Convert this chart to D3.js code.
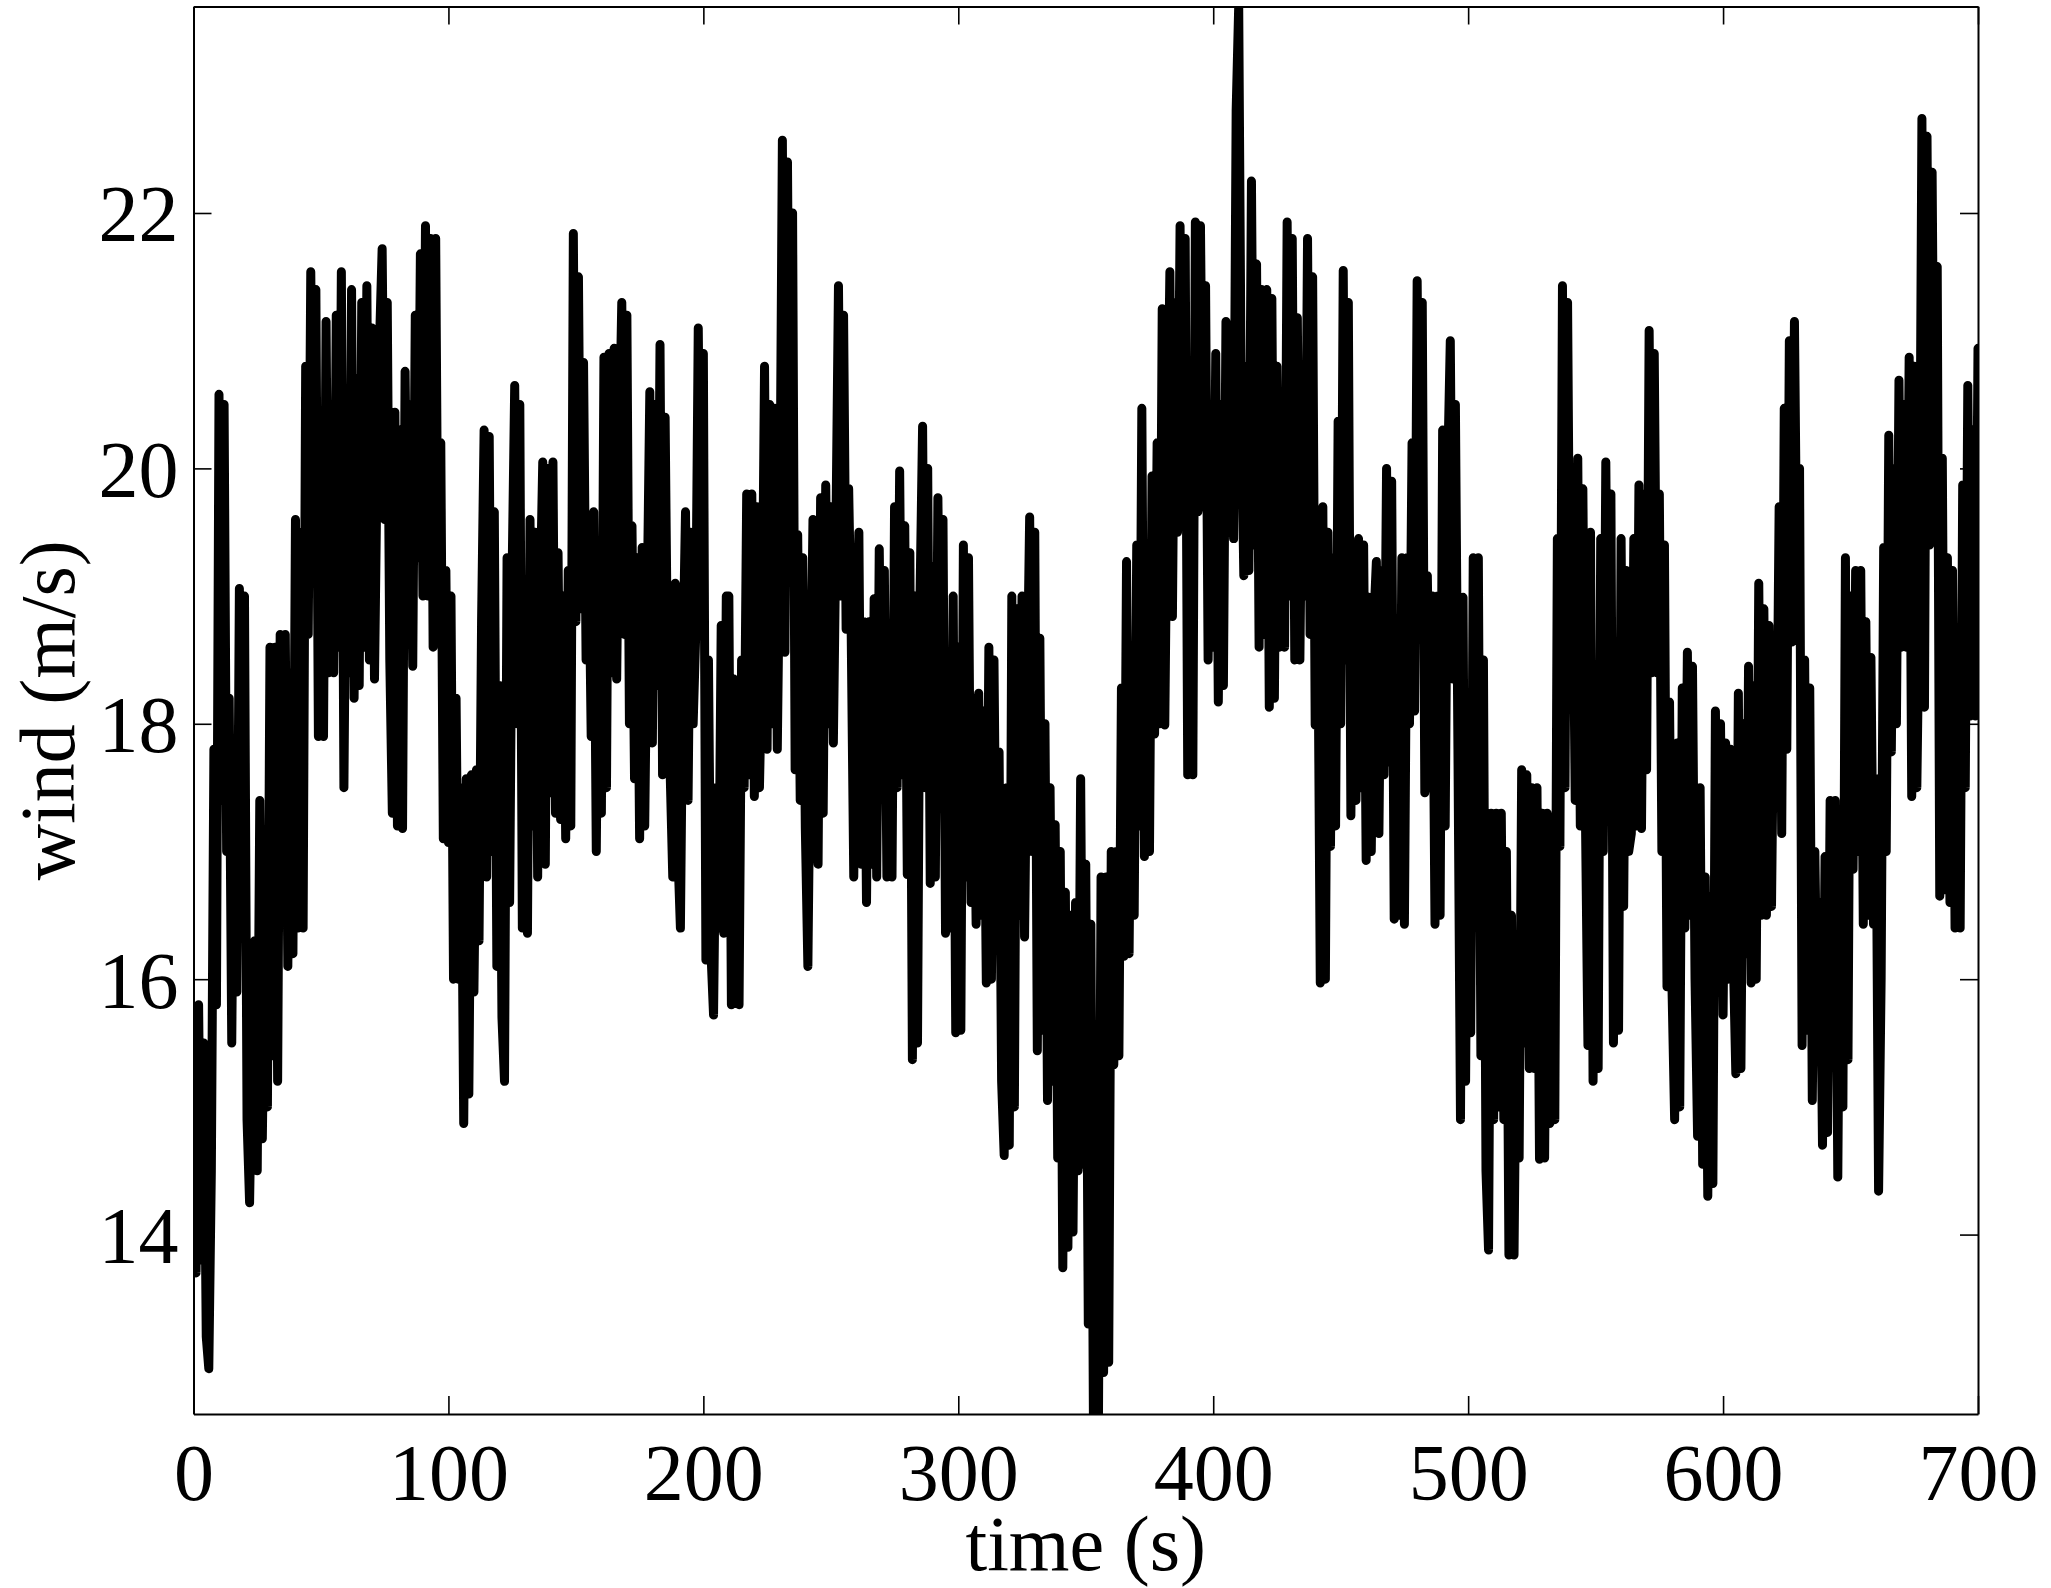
<!DOCTYPE html>
<html>
<head>
<meta charset="utf-8">
<script src="https://cdn.jsdelivr.net/npm/d3@7"></script>
<style>
html,body{margin:0;padding:0;background:#fff;}
svg{display:block;}
</style>
</head>
<body>
<svg id="chart" width="2051" height="1588"></svg>
<script>
const sampleInterval = 1; // seconds
const xTickValues = [0, 100, 200, 300, 400, 500, 600, 700];
const yTickValues = [14, 16, 18, 20, 22];
const xLabel = "time (s)";
const yLabel = "wind (m/s)";
const timeRange = [0, 700];
const windRange = [12.595, 23.617];

const wind000 = [15.7,13.7,15.8,13.8,15.5,13.2,12.95,14.5,17.8,15.8,
 20.58,17.4,20.5,17.0,18.2,15.5,17.8,15.9,19.06,16.8,
 19.0,14.9,14.25,15.5,16.3,14.5,17.4,14.75,16.3,15.0,
 18.6,15.4,18.6,15.2,18.7,16.8,18.7,16.1,18.4,16.2,
 19.6,16.4,19.5,16.4,20.8,18.7,21.54,19.5,21.4,17.9,
 19.7,17.9,21.15,18.4,20.5,18.4,21.2,18.6,21.54,17.5,
 20.0,18.4,21.4,18.2,20.7,18.3,21.3,18.6,21.43,18.5,
 21.1,18.35,20.0,21.0,21.72,19.6,21.3,18.5,17.3,20.44,
 17.2,20.3,17.18,20.76,18.8,20.5,18.45,21.2,19.3,21.68,
 19.0,21.9,19.0,21.8,18.6,21.8,18.7,20.2,17.1,19.2];
const wind100 = [17.07,19.0,16.0,18.2,16.0,17.5,14.87,17.57,15.1,17.6,
 15.9,17.64,16.3,18.8,20.3,16.8,20.25,17.0,19.66,16.1,
 18.3,15.7,15.2,19.3,16.6,19.2,20.65,18.0,20.5,16.4,
 18.8,16.36,19.6,17.2,19.5,16.8,19.0,20.05,16.9,20.0,
 17.46,20.05,17.3,19.34,17.25,19.0,17.1,19.2,17.2,21.84,
 18.8,21.5,18.9,20.83,18.5,19.5,17.9,19.66,17.0,19.4,
 17.3,20.87,17.5,20.9,18.4,20.94,18.35,20.2,21.3,18.7,
 21.2,18.0,19.55,17.57,19.3,17.1,19.38,17.2,19.0,20.6,
 17.85,20.5,18.3,20.97,17.6,20.4,18.3,17.6,16.8,19.1,
 17.0,16.4,18.5,19.66,17.4,19.5,18.0,18.7,21.1,19.0];
const wind200 = [20.9,16.15,18.5,16.2,15.72,17.5,16.4,18.77,16.36,19.0,
 19.0,15.8,18.35,16.2,15.8,18.5,17.5,19.8,17.6,19.8,
 17.43,19.7,17.5,18.5,20.8,17.8,20.5,18.0,20.47,17.8,
 19.5,22.57,18.56,22.4,19.3,22.0,17.64,19.48,17.4,19.3,
 17.18,16.1,18.0,19.6,17.3,16.9,19.77,17.3,19.87,18.0,
 19.7,17.85,19.5,21.43,19.0,21.2,18.74,19.84,18.7,16.8,
 18.5,19.5,16.9,18.8,16.6,18.8,16.9,18.98,16.8,19.37,
 17.5,19.2,16.8,18.4,16.8,19.7,17.5,19.98,17.6,19.55,
 16.82,19.34,15.37,19.0,15.5,19.0,20.33,17.5,20.0,16.75,
 19.23,16.8,19.77,18.0,19.6,16.36,18.5,16.4,19.0,15.58];
const wind300 = [18.6,15.6,19.4,16.8,19.3,16.6,18.2,16.43,18.24,16.5,
 18.1,15.97,18.6,16.0,18.5,16.3,17.78,15.2,14.62,17.5,
 14.7,19.0,15.0,18.9,16.5,19.0,16.33,18.2,19.62,17.0,
 19.5,15.44,18.67,15.6,18.0,15.05,17.5,15.2,17.21,14.6,
 17.0,13.74,16.68,13.9,16.5,14.02,16.6,14.5,17.57,14.55,
 16.9,13.3,16.43,12.6,15.1,12.6,16.8,12.92,16.8,13.0,
 17.0,15.33,17.0,15.4,18.28,16.18,19.27,16.2,18.5,16.5,
 19.4,17.2,20.47,16.96,19.0,17.0,19.94,17.92,20.2,18.0,
 21.25,17.99,20.0,21.54,18.84,21.3,19.5,21.9,19.6,21.8,
 17.6,19.5,17.6,21.93,19.66,21.9,19.7,21.43,18.5,20.3];
const wind400 = [18.6,20.9,18.17,20.5,18.3,21.15,19.5,20.2,19.45,22.8,
 23.62,20.5,19.16,20.8,19.2,22.25,19.4,21.6,18.6,21.4,
 18.7,21.4,18.13,21.33,18.2,20.8,18.6,20.5,18.6,21.93,
 19.0,21.8,18.5,21.18,18.5,20.5,19.0,21.8,18.7,21.5,
 17.99,19.0,15.97,19.7,16.0,19.5,17.04,19.3,17.2,20.37,
 18.0,21.55,18.5,21.3,17.28,19.3,17.4,19.45,17.5,19.4,
 16.93,18.99,17.0,18.8,19.27,17.14,19.2,17.6,20.0,17.7,
 19.9,16.47,18.8,16.5,19.3,16.43,19.3,18.0,20.2,18.1,
 21.47,19.0,21.3,17.46,19.16,17.5,19.0,16.43,19.0,16.5,
 20.3,17.2,20.0,21.0,18.35,20.5,17.8,14.9,18.99,15.2];
const wind500 = [18.24,15.58,19.3,16.5,19.3,15.4,18.5,14.5,13.88,17.3,
 14.9,17.3,15.0,17.3,14.9,17.0,13.84,16.5,13.84,16.0,
 14.6,17.64,15.5,17.6,15.3,17.5,15.3,17.5,14.59,17.3,
 14.6,17.3,14.87,17.0,14.9,19.45,17.04,21.43,17.5,21.3,
 18.5,19.6,17.4,20.08,17.2,19.84,17.3,15.48,19.5,15.2,
 17.5,15.3,19.45,17.0,20.05,17.5,19.8,15.5,18.2,15.6,
 19.45,16.57,19.2,17.0,17.14,19.45,17.2,19.87,17.18,19.8,
 17.64,21.08,18.4,20.9,18.4,19.8,17.0,19.4,15.94,18.17,
 15.9,14.9,17.85,15.0,18.28,16.4,18.56,16.5,18.45,16.0,
 14.77,17.5,14.55,16.8,14.3,16.65,14.4,18.1,16.0,18.0];
const wind600 = [15.72,17.85,16.0,17.8,16.2,15.26,18.24,15.3,18.0,16.2,
 18.45,15.97,18.3,16.0,19.1,16.5,18.9,16.5,18.77,16.57,
 18.5,17.5,19.7,17.14,20.47,17.8,21.0,18.64,21.15,19.0,
 20.0,15.48,18.5,15.6,18.28,15.05,17.0,15.5,16.6,14.7,
 16.96,14.8,17.4,15.5,17.4,14.45,17.2,15.0,19.3,15.37,
 19.0,16.86,19.2,17.0,19.2,16.43,18.8,16.5,18.52,16.43,
 17.57,14.34,16.0,19.38,17.0,20.26,17.78,20.0,18.0,20.69,
 18.6,20.5,18.6,20.87,17.43,20.8,17.5,19.0,22.74,18.13,
 22.6,19.4,22.32,19.5,21.58,16.65,20.08,16.7,19.3,16.6,
 19.2,16.4,18.5,16.4,19.87,17.5,20.65,18.06,20.3,18.06,
 20.94];

const wind = [].concat(wind000, wind100, wind200, wind300, wind400, wind500, wind600);
const series = wind.map((v, i) => ({t: i * sampleInterval, v: v}));

// ---- layout ----
const W = 2051, H = 1588;
const plot = {left: 193.5, right: 1978, top: 6.5, bottom: 1414};
const fontFamily = '"Liberation Serif", "Times New Roman", Times, serif';
const tickFont = 80, xLabelFont = 78, yLabelFont = 78;
const tickLen = 18;

const svg = d3.select("#chart");
svg.append("rect").attr("width", W).attr("height", H).attr("fill", "#fff");

const x = d3.scaleLinear().domain(timeRange).range([plot.left, plot.right]);
const y = d3.scaleLinear().domain(windRange).range([plot.bottom, plot.top]);

svg.append("defs").append("clipPath").attr("id", "plotclip")
  .append("rect")
  .attr("x", plot.left).attr("y", plot.top)
  .attr("width", plot.right - plot.left).attr("height", plot.bottom - plot.top);

// data line
const line = d3.line().x(d => x(d.t)).y(d => y(d.v));
svg.append("path")
  .datum(series)
  .attr("clip-path", "url(#plotclip)")
  .attr("d", line)
  .attr("fill", "none")
  .attr("stroke", "#000")
  .attr("stroke-width", 9)
  .attr("stroke-linejoin", "round")
  .attr("stroke-linecap", "round");

// axes (box with inward ticks on all sides)
function styleAxis(g) {
  g.select(".domain").attr("stroke", "#000").attr("stroke-width", 2);
  g.selectAll(".tick line").attr("stroke", "#000").attr("stroke-width", 1.6);
  g.selectAll("text").attr("font-family", fontFamily).attr("font-size", tickFont).attr("fill", "#000");
}

const gBottom = svg.append("g").attr("transform", `translate(0,${plot.bottom})`)
  .call(d3.axisBottom(x).tickValues(xTickValues).tickFormat(d3.format("d"))
        .tickSizeInner(-tickLen).tickSizeOuter(0));
styleAxis(gBottom);
gBottom.selectAll("text").attr("y", 86).attr("dy", null);

const gTop = svg.append("g").attr("transform", `translate(0,${plot.top})`)
  .call(d3.axisTop(x).tickValues(xTickValues).tickFormat("")
        .tickSizeInner(-tickLen).tickSizeOuter(0));
styleAxis(gTop);

const gLeft = svg.append("g").attr("transform", `translate(${plot.left},0)`)
  .call(d3.axisLeft(y).tickValues(yTickValues).tickFormat(d3.format("d"))
        .tickSizeInner(-tickLen).tickSizeOuter(0));
styleAxis(gLeft);
gLeft.selectAll("text").attr("x", -15).attr("dy", null).attr("y", 28);

const gRight = svg.append("g").attr("transform", `translate(${plot.right},0)`)
  .call(d3.axisRight(y).tickValues(yTickValues).tickFormat("")
        .tickSizeInner(-tickLen).tickSizeOuter(0));
styleAxis(gRight);

// axis labels
svg.append("text")
  .attr("x", (plot.left + plot.right) / 2)
  .attr("y", 1570)
  .attr("text-anchor", "middle")
  .attr("font-family", fontFamily)
  .attr("font-size", xLabelFont)
  .text(xLabel);

svg.append("text")
  .attr("transform", `translate(74,${(plot.top + plot.bottom) / 2}) rotate(-90)`)
  .attr("text-anchor", "middle")
  .attr("font-family", fontFamily)
  .attr("font-size", yLabelFont)
  .text(yLabel);
</script>
</body>
</html>
